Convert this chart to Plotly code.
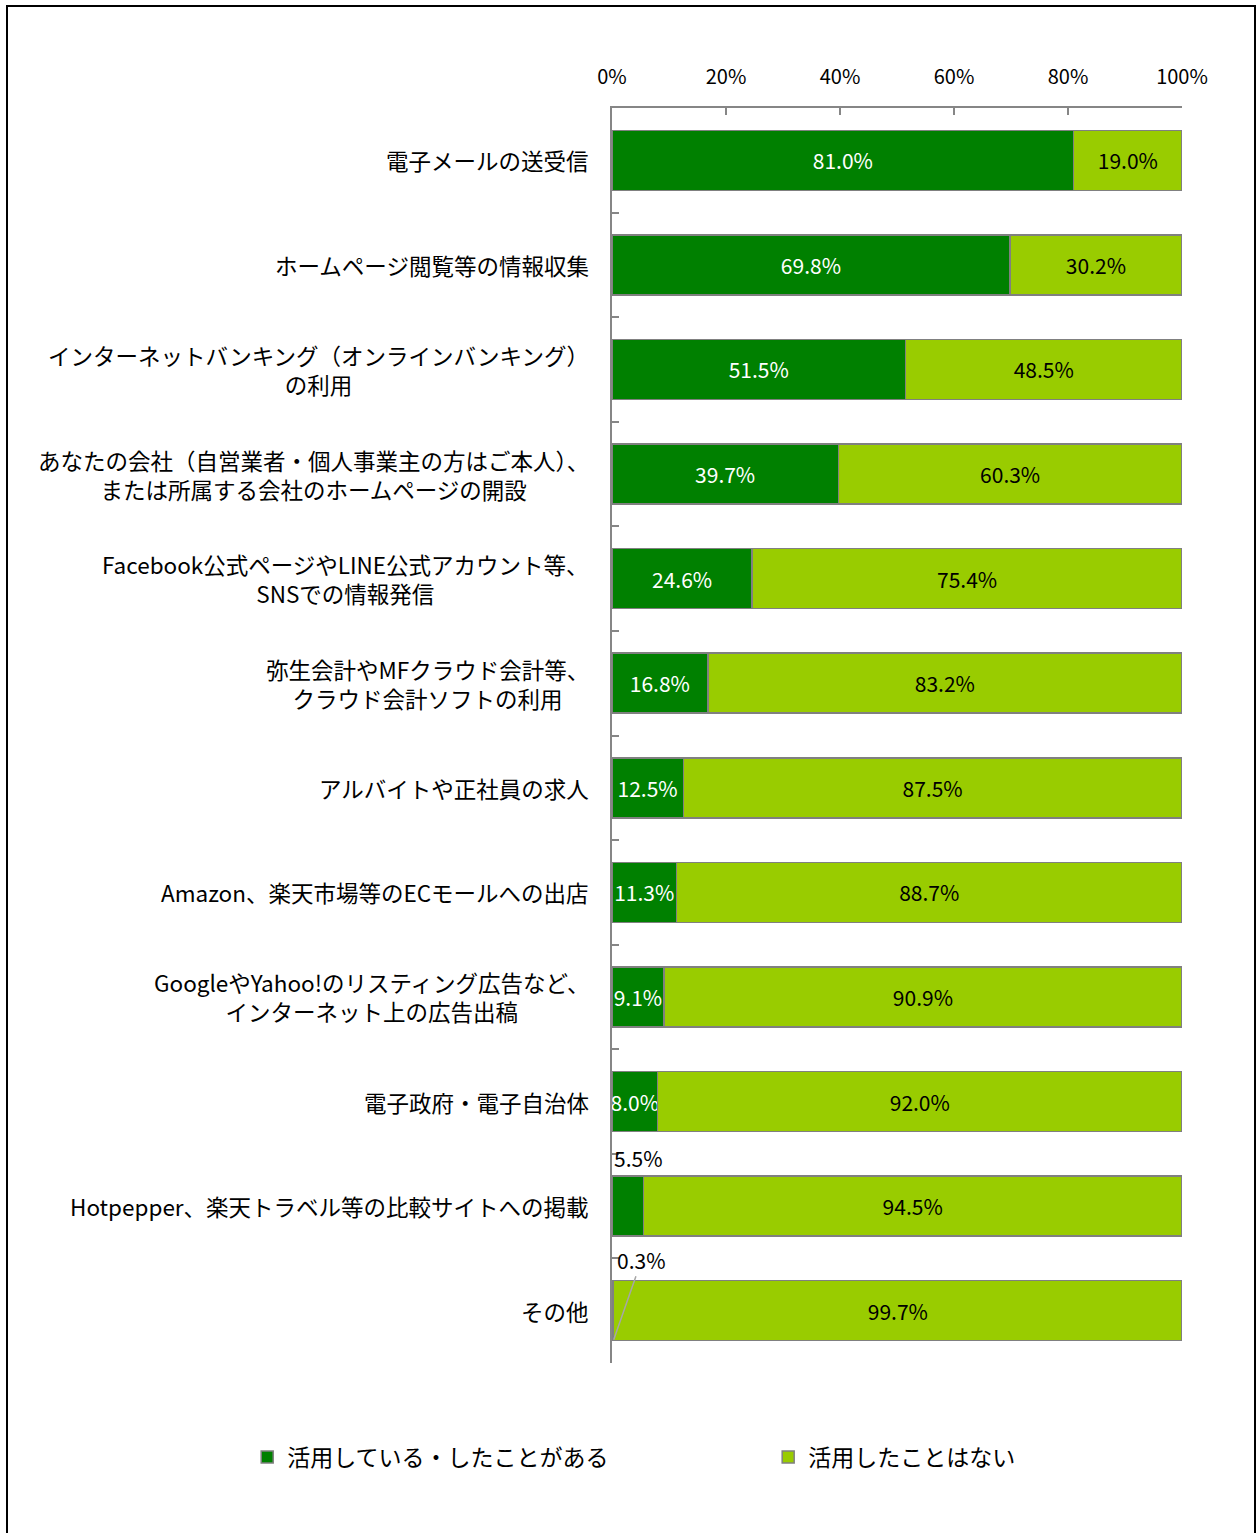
import plotly.graph_objects as go

categories = [
    "電子メールの送受信",
    "ホームページ閲覧等の情報収集",
    "インターネットバンキング（オンラインバンキング）<br>の利用",
    "あなたの会社（自営業者・個人事業主の方はご本人）、<br>または所属する会社のホームページの開設",
    "Facebook公式ページやLINE公式アカウント等、<br>SNSでの情報発信",
    "弥生会計やMFクラウド会計等、<br>クラウド会計ソフトの利用",
    "アルバイトや正社員の求人",
    "Amazon、楽天市場等のECモールへの出店",
    "GoogleやYahoo!のリスティング広告など、<br>インターネット上の広告出稿",
    "電子政府・電子自治体",
    "Hotpepper、楽天トラベル等の比較サイトへの掲載",
    "その他",
]
used = [81.0, 69.8, 51.5, 39.7, 24.6, 16.8, 12.5, 11.3, 9.1, 8.0, 5.5, 0.3]
not_used = [19.0, 30.2, 48.5, 60.3, 75.4, 83.2, 87.5, 88.7, 90.9, 92.0, 94.5, 99.7]
series_names = ["活用している・したことがある", "活用したことはない"]

FONT = "Noto Sans CJK JP"
DARK = "#008000"
LIGHT = "#99CC00"
EDGE = "#808080"

# small values get their label outside the bar
used_text = [f"{v:.1f}%" if v >= 8 else "" for v in used]

fig = go.Figure()
fig.add_trace(go.Bar(
    y=categories, x=used, orientation="h", name=series_names[0],
    marker=dict(color=DARK, line=dict(color=EDGE, width=1.5)),
    text=used_text, textposition="inside", insidetextanchor="middle",
    constraintext="none", textangle=0,
    textfont=dict(color="white", size=21, family=FONT),
    hoverinfo="skip", legend="legend",
))
fig.add_trace(go.Bar(
    y=categories, x=not_used, orientation="h", name=series_names[1],
    marker=dict(color=LIGHT, line=dict(color=EDGE, width=1.5)),
    text=[f"{v:.1f}%" for v in not_used], textposition="inside",
    insidetextanchor="middle", constraintext="none", textangle=0,
    textfont=dict(color="black", size=21, family=FONT),
    hoverinfo="skip", legend="legend2",
))

annotations = []
# category labels, centred lines, right edge near the axis
for c in categories:
    annotations.append(dict(
        x=-0.037, xref="paper", y=c, yref="y", text=c, showarrow=False,
        xanchor="right", align="center", font=dict(size=22.5, color="black", family=FONT),
    ))

# 5.5% label above its bar
annotations.append(dict(
    x=0, y=categories[10], text=f"{used[10]:.1f}%", showarrow=False,
    xanchor="left", yshift=48, font=dict(size=21, color="black", family=FONT),
))
# 0.3% label with leader line
annotations.append(dict(
    x=0.3, y=categories[11], text=f"{used[11]:.1f}%", showarrow=True,
    arrowhead=0, arrowwidth=1.5, arrowcolor="#A6A6A6", yshift=-29,
    ax=28, ay=-80, standoff=0,
    font=dict(size=21, color="black", family=FONT),
))

legend_style = dict(
    orientation="h", y=-0.075, xanchor="left", yanchor="middle",
    bgcolor="rgba(0,0,0,0)", font=dict(size=23, family=FONT),
    itemclick=False, itemdoubleclick=False,
)

fig.update_layout(
    width=1258, height=1533,
    margin=dict(l=612, r=76, t=108, b=170),
    barmode="stack", bargap=0.426,
    plot_bgcolor="white", paper_bgcolor="white",
    font=dict(family=FONT, size=20, color="black"),
    showlegend=True,
    legend=dict(x=-0.640, **legend_style),
    legend2=dict(x=0.274, **legend_style),
    annotations=annotations,
    shapes=[dict(
        type="rect", xref="paper", yref="paper",
        x0=(7 - 612) / 570, x1=(1255 - 612) / 570,
        y0=-0.2, y1=(1363 - 6) / 1255,
        line=dict(color="black", width=2), fillcolor="rgba(0,0,0,0)",
    )],
)

fig.update_xaxes(
    range=[0, 100], side="top", dtick=20, ticksuffix="%",
    showline=True, linecolor="#868686", linewidth=1.5,
    ticks="inside", ticklen=7, tickcolor="#868686", tickwidth=1.5,
    showgrid=False, zeroline=False, ticklabelstandoff=14,
    tickfont=dict(size=20, family=FONT),
)
fig.update_yaxes(
    type="category", range=[len(categories) - 0.5, -0.5], autorange=False,
    showticklabels=False,
    showline=True, linecolor="#868686", linewidth=1.5,
    ticks="inside", ticklen=7, tickcolor="#868686", tickwidth=1.5,
    tickson="boundaries", showgrid=False, zeroline=False,
)

fig.write_html(
    "out.html",
    config={"displayModeBar": False},
    post_script="document.body.style.margin='0';",
)
